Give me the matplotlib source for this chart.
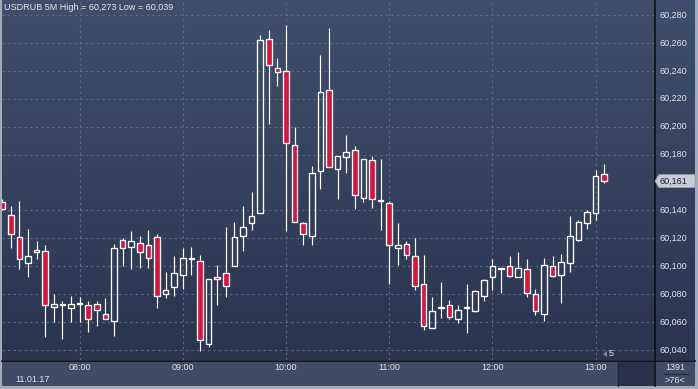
import numpy as np
import matplotlib
matplotlib.use("Agg")
import matplotlib.pyplot as plt
from matplotlib.patches import Rectangle, Polygon

plt.rcParams["font.family"] = ["Liberation Sans", "DejaVu Sans"]

## DATA: USDRUB 5M candles, 07:15 .. 13:05 on 11.01.17 ##

opens = [60.146, 60.137, 60.121, 60.102, 60.110, 60.111, 60.071, 60.072, 60.070, 60.073,
         60.072, 60.073, 60.066, 60.061, 60.119, 60.114, 60.117, 60.115, 60.121, 60.080,
         60.085, 60.094, 60.105, 60.104, 60.044, 60.092, 60.095, 60.100, 60.122, 60.131,
         60.138, 60.263, 60.242, 60.240, 60.187, 60.131, 60.122, 60.168, 60.226, 60.170,
         60.178, 60.183, 60.149, 60.176, 60.147, 60.145, 60.113, 60.116, 60.107, 60.087,
         60.056, 60.070, 60.072, 60.062, 60.070, 60.068, 60.079, 60.092, 60.099, 60.100,
         60.092, 60.098, 60.080, 60.066, 60.100, 60.094, 60.102, 60.119, 60.131, 60.138,
         60.166]
highs = [60.148, 60.143, 60.147, 60.127, 60.118, 60.115, 60.080, 60.075, 60.079, 60.078,
         60.075, 60.075, 60.077, 60.116, 60.120, 60.125, 60.122, 60.126, 60.123, 60.096,
         60.107, 60.113, 60.114, 60.108, 60.091, 60.101, 60.128, 60.132, 60.143, 60.153,
         60.266, 60.269, 60.249, 60.273, 60.200, 60.132, 60.172, 60.251, 60.271, 60.179,
         60.194, 60.186, 60.177, 60.179, 60.177, 60.147, 60.131, 60.118, 60.120, 60.108,
         60.078, 60.089, 60.076, 60.072, 60.087, 60.083, 60.091, 60.105, 60.099, 60.107,
         60.110, 60.105, 60.084, 60.106, 60.107, 60.109, 60.136, 60.133, 60.140, 60.169,
         60.173]
lows = [60.140, 60.113, 60.098, 60.092, 60.105, 60.049, 60.060, 60.048, 60.060, 60.060,
        60.053, 60.057, 60.062, 60.050, 60.100, 60.098, 60.099, 60.099, 60.070, 60.077,
        60.079, 60.084, 60.094, 60.039, 60.042, 60.072, 60.078, 60.100, 60.111, 60.126,
        60.138, 60.202, 60.229, 60.125, 60.132, 60.115, 60.115, 60.155, 60.171, 60.148,
        60.167, 60.141, 60.146, 60.142, 60.126, 60.087, 60.101, 60.105, 60.083, 60.054,
        60.056, 60.063, 60.062, 60.059, 60.052, 60.067, 60.075, 60.083, 60.081, 60.092,
        60.092, 60.078, 60.065, 60.061, 60.092, 60.074, 60.096, 60.118, 60.127, 60.133,
        60.160]
closes = [60.141, 60.123, 60.105, 60.107, 60.112, 60.072, 60.073, 60.073, 60.073, 60.074,
          60.062, 60.069, 60.062, 60.113, 60.113, 60.118, 60.110, 60.106, 60.079, 60.083,
          60.095, 60.106, 60.105, 60.047, 60.091, 60.091, 60.086, 60.121, 60.128, 60.136,
          60.262, 60.244, 60.239, 60.188, 60.132, 60.123, 60.167, 60.225, 60.171, 60.179,
          60.182, 60.151, 60.177, 60.148, 60.147, 60.115, 60.115, 60.108, 60.086, 60.057,
          60.068, 60.071, 60.064, 60.069, 60.070, 60.082, 60.090, 60.100, 60.098, 60.093,
          60.099, 60.081, 60.068, 60.101, 60.093, 60.103, 60.122, 60.132, 60.139, 60.165,
          60.161]

hour_idx = [9, 21, 33, 45, 57, 69]
hour_labels = ["08:00", "09:00", "10:00", "11:00", "12:00", "13:00"]
price_levels = [60.040, 60.060, 60.080, 60.100, 60.120, 60.140, 60.180,
                60.200, 60.220, 60.240, 60.260, 60.280]
last_price = 60.161
title = "USDRUB 5M High = 60,273 Low = 60,039"

## LAYOUT (pixels) ##
W, H = 698, 389
FS = 6.5
TXT = "#dfe4ee"

def rect(x0, y0, x1, y1):
    return [x0 / W, 1 - y1 / H, (x1 - x0) / W, (y1 - y0) / H]

def fx(x):
    return x / W

def fy(y):
    return 1 - y / H

def gradient(ax, top, bottom):
    c0 = np.array(matplotlib.colors.to_rgb(top))
    c1 = np.array(matplotlib.colors.to_rgb(bottom))
    t = np.linspace(0, 1, 256)[:, None]
    img = (c0[None, :] * (1 - t) + c1[None, :] * t)[:, None, :]
    ax.imshow(img, extent=[0, 1, 0, 1], transform=ax.transAxes,
              aspect="auto", zorder=0, interpolation="bilinear")

fig = plt.figure(figsize=(W / 100, H / 100), dpi=100)
fig.patch.set_facecolor("#a3abb9")

TOP_C, BOT_C = "#3f4f6b", "#2a3550"
LEFT = 2
xlim = (9 + (LEFT - 79.6) / 8.6, 9 + (655 - 79.6) / 8.6)
ylim = (60.040 - 10 / 1395.8, 60.040 + 350 / 1395.8)

# main price pane
ax = fig.add_axes(rect(LEFT, 0, 655, 360))
gradient(ax, TOP_C, BOT_C)
ax.set_xlim(xlim)
ax.set_ylim(ylim)
ax.set_xticks(hour_idx)
ax.set_yticks(price_levels)
ax.tick_params(length=0, labelbottom=False, labelleft=False)
ax.grid(True, color="#5d6c89", linestyle=(0, (2, 3)), linewidth=0.8)
ax.set_axisbelow(True)
for s in ax.spines.values():
    s.set_visible(False)

idx = np.arange(len(opens))
o = np.array(opens)
c = np.array(closes)
h = np.array(highs)
l = np.array(lows)
top = np.maximum(o, c)
bot = np.minimum(o, c)
up = c >= o

ax.vlines(idx, top, h, color="white", linewidth=0.85, zorder=3)
ax.vlines(idx, l, bot, color="white", linewidth=0.85, zorder=3)
ax.bar(idx[~up], (top - bot)[~up], bottom=bot[~up], width=0.66,
       color="#dc143c", edgecolor="white", linewidth=0.95, zorder=4)
ax.bar(idx[up], np.maximum((top - bot)[up], 0.0006), bottom=bot[up], width=0.66,
       color="none", edgecolor="white", linewidth=0.95, zorder=4)

fig.text(fx(4), fy(8), title, color="#e4e8f0", fontsize=FS, va="center", ha="left", zorder=6)

# right price scale
axr = fig.add_axes(rect(655, 0, 695, 360))
gradient(axr, TOP_C, BOT_C)
axr.set_ylim(ylim)
axr.set_xlim(0, 1)
axr.axis("off")
for p in price_levels:
    axr.text(0.1, p, f"{p:.3f}".replace(".", ","), color=TXT,
             fontsize=FS, va="center", ha="left")

# last price marker
yl = 350 - (last_price - 60.040) * 1395.8
marker = Polygon([(fx(655), fy(yl)), (fx(659), fy(yl - 6.5)), (fx(695), fy(yl - 6.5)),
                  (fx(695), fy(yl + 6.5)), (fx(659), fy(yl + 6.5))],
                 closed=True, transform=fig.transFigure, facecolor="#c8ccd4",
                 edgecolor="#9aa0aa", linewidth=0.6, zorder=10)
fig.patches.append(marker)
fig.text(fx(660), fy(yl), f"{last_price:.3f}".replace(".", ","), color="#1b2130",
         fontsize=FS, va="center", ha="left", zorder=11)

# bottom time scale
axb = fig.add_axes(rect(LEFT, 361, 655, 386))
axb.set_xlim(xlim)
axb.set_ylim(0, 1)
axb.axis("off")
axb.add_patch(Rectangle((0, 0), 1, 1, transform=axb.transAxes,
                        color="#3e4c66", zorder=0))
axb.add_patch(Rectangle((fx(618), fy(386)), fx(35), 25 / H, transform=fig.transFigure,
                        color="#28324a", zorder=1))
for i, lab in zip(hour_idx, hour_labels):
    axb.text(i, 0.72, lab, color=TXT, fontsize=FS, ha="center", va="center")
fig.text(fx(15), fy(379), "11.01.17", color=TXT, fontsize=FS, va="center")

# bottom right info cell
axc = fig.add_axes(rect(655, 361, 695, 386))
axc.set_facecolor("#3e4c66")
axc.set_xticks([])
axc.set_yticks([])
for s in axc.spines.values():
    s.set_visible(False)
fig.text(fx(675), fy(368), "1391", color=TXT, fontsize=FS, ha="center", va="center")
fig.text(fx(675), fy(380.5), ">76<", color=TXT, fontsize=FS, ha="center", va="center")
fig.add_artist(plt.Line2D([fx(664), fx(688)], [fy(374), fy(374)], color="#1e2638", linewidth=0.8))

# small "5" marker
fig.text(fx(609), fy(354), "5", color="#e4e8f0", fontsize=FS, va="center", ha="left")
fig.patches.append(Polygon([(fx(603), fy(354)), (fx(607), fy(351)), (fx(607), fy(357))],
                           closed=True, transform=fig.transFigure, facecolor="#7a8498"))

# separator lines
fig.add_artist(plt.Line2D([fx(655), fx(655)], [fy(0), fy(386)], color="#0b0f18", linewidth=1.2))
fig.add_artist(plt.Line2D([fx(2), fx(695)], [fy(360.5), fy(360.5)], color="#0b0f18", linewidth=1.2))
fig.add_artist(plt.Line2D([fx(618), fx(618)], [fy(361), fy(386)], color="#1e2638", linewidth=0.8))

fig.savefig("out.png", dpi=100, facecolor=fig.get_facecolor())
